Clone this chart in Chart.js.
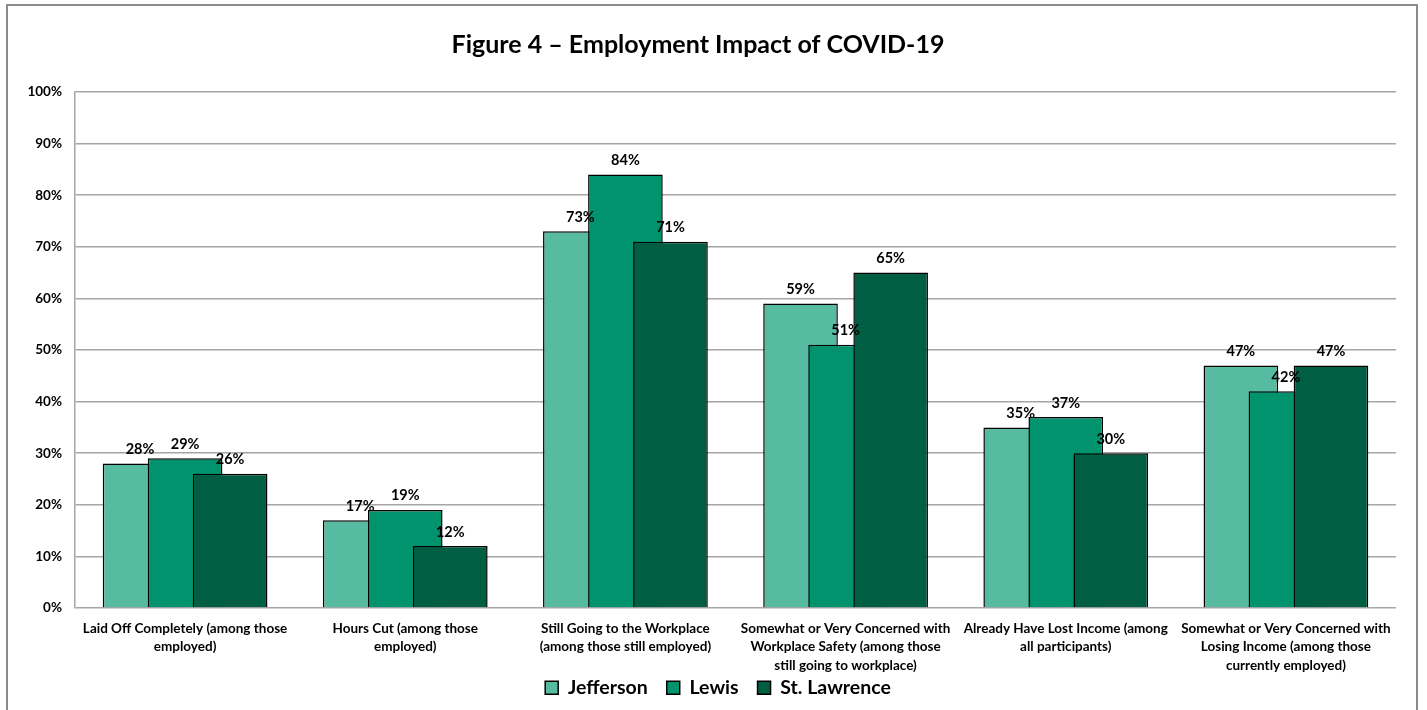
<!DOCTYPE html>
<html>
<head>
<meta charset="utf-8">
<script src="https://cdn.jsdelivr.net/npm/chart.js@4.4.1/dist/chart.umd.min.js"></script>
<style>
  html, body { margin: 0; padding: 0; background: #fff; }
  #wrap { width: 1427px; height: 710px; position: relative; }
</style>
</head>
<body>
<div id="wrap"><canvas id="chart"></canvas></div>
<script>
// Data
const categories = [
  ['Laid Off Completely (among those', 'employed)'],
  ['Hours Cut (among those', 'employed)'],
  ['Still Going to the Workplace', '(among those still employed)'],
  ['Somewhat or Very Concerned with', 'Workplace Safety (among those', 'still going to workplace)'],
  ['Already Have Lost Income (among', 'all participants)'],
  ['Somewhat or Very Concerned with', 'Losing Income (among those', 'currently employed)']
];
const seriesNames = ['Jefferson', 'Lewis', 'St. Lawrence'];
const jefferson = [28, 17, 73, 59, 35, 47];
const lewis = [29, 19, 84, 51, 37, 42];
const stLawrence = [26, 12, 71, 65, 30, 47];
const seriesColors = ['#56bba1', '#00936e', '#005e42'];
const yMax = 100;
const yStep = 10;

const FONT = 'Lato, "Open Sans", sans-serif';

// Excel-style overlapping bars: draw datasets left to right so the later one sits on top,
// then put the value labels over everything
const overlapBars = {
  id: 'overlapBars',
  afterLayout(chart) {
    // legend sits a little right of centre in the original
    if (chart.legend) { chart.legend.left += 20; chart.legend.right += 20; }
  },
  beforeDatasetsDraw(chart) {
    const ctx = chart.ctx;
    for (let i = 0; i < chart.data.datasets.length; i++) {
      if (chart.isDatasetVisible(i)) chart.getDatasetMeta(i).controller.draw();
    }
    ctx.save();
    ctx.font = 'bold 14.5px ' + FONT;
    ctx.fillStyle = '#000';
    ctx.textAlign = 'center';
    ctx.textBaseline = 'bottom';
    chart.data.datasets.forEach((ds, i) => {
      if (!chart.isDatasetVisible(i)) return;
      chart.getDatasetMeta(i).data.forEach((bar, j) => {
        ctx.fillText(ds.data[j] + '%', bar.x, bar.y - 7);
      });
    });
    ctx.restore();
    return false;
  }
};

// gray frame round the whole figure
const frame = {
  id: 'frame',
  afterDraw(chart) {
    const ctx = chart.ctx;
    ctx.save();
    ctx.strokeStyle = '#8c8c8c';
    ctx.lineWidth = 2;
    ctx.strokeRect(7, 5, 1410, 800);
    ctx.restore();
  }
};

const datasets = [jefferson, lewis, stLawrence].map((data, i) => ({
  label: seriesNames[i],
  data,
  backgroundColor: seriesColors[i],
  borderColor: '#000',
  borderWidth: 1.5,
  borderSkipped: 'bottom',
  categoryPercentage: 0.614,
  barPercentage: 1.656
}));

new Chart(document.getElementById('chart'), {
  type: 'bar',
  data: { labels: categories, datasets },
  plugins: [overlapBars, frame],
  options: {
    responsive: true,
    maintainAspectRatio: false,
    animation: false,
    layout: { padding: { left: 0, right: 31, top: 0, bottom: 2.5 } },
    plugins: {
      title: {
        display: true,
        text: 'Figure 4 \u2013 Employment Impact of COVID-19',
        color: '#000',
        font: { family: FONT, size: 25, weight: 'bold', lineHeight: 1.2 },
        padding: { top: 30, bottom: 32 }
      },
      legend: {
        position: 'bottom',
        labels: {
          color: '#000',
          font: { family: FONT, size: 19.5, weight: 'bold' },
          boxWidth: 13,
          boxHeight: 13,
          padding: 19
        }
      },
      tooltip: { enabled: false }
    },
    scales: {
      x: {
        // three-line labels run down beside the legend, so don't clip them to the axis box
        afterFit: s => { s.height = 51; s._computeLabelArea = () => undefined; },
        grid: { display: false, drawTicks: false },
        border: { display: false },
        ticks: {
          color: '#000',
          font: { family: FONT, size: 13.5, weight: 'bold', lineHeight: 1.37 },
          maxRotation: 0,
          autoSkip: false,
          padding: 11
        }
      },
      y: {
        min: 0,
        max: yMax,
        afterFit: s => { s.width = 75; },
        grid: { color: '#a6a6a6', lineWidth: 1.5, drawTicks: false },
        border: { color: '#a6a6a6', width: 1.5 },
        ticks: {
          stepSize: yStep,
          color: '#000',
          padding: 13,
          font: { family: FONT, size: 13.5, weight: 'bold' },
          callback: v => v + '%'
        }
      }
    }
  }
});
</script>
</body>
</html>
